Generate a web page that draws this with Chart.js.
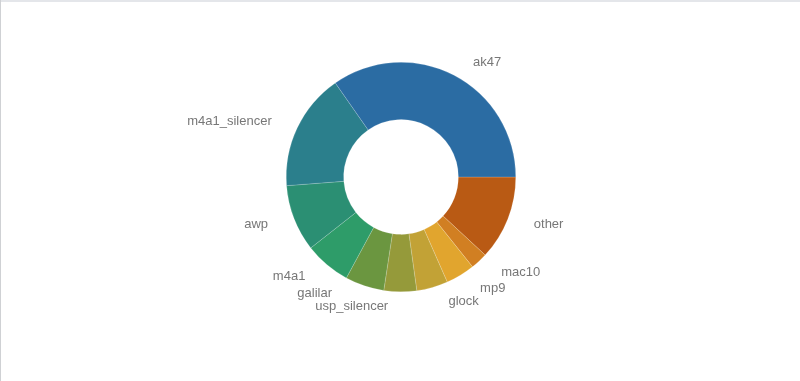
<!DOCTYPE html>
<html>
<head>
<meta charset="utf-8">
<script src="https://cdn.jsdelivr.net/npm/chart.js@4"></script>
<style>
  html, body { margin: 0; padding: 0; background: #fff; }
  #wrap { position: relative; width: 800px; height: 381px; overflow: hidden; }
  #wrap canvas { position: absolute; left: 0; top: 0; }
  .edge-top { position: absolute; left: 0; top: 0; width: 800px; height: 2px; background: #e4e6ea; }
  .edge-left { position: absolute; left: 0; top: 0; width: 1px; height: 381px; background: #cfd1d4; }
</style>
</head>
<body>
<div id="wrap">
  <canvas id="chart" width="800" height="381"></canvas>
  <div class="edge-top"></div>
  <div class="edge-left"></div>
</div>
<script>
// slices in drawing order, clockwise from 3 o'clock (share of kills, %)
const weapons = ['other', 'mac10', 'mp9', 'glock', 'usp_silencer', 'galilar', 'm4a1', 'awp', 'm4a1_silencer', 'ak47']
const shares = [11.9, 2.4, 4.1, 4.4, 4.6, 5.5, 6.5, 9.4, 16.5, 34.7]
const colors = ['#b95a14', '#d17f22', '#e1a52e', '#c2a236', '#959a3a', '#6b9640', '#2e9c69', '#2b8f73', '#2b7f8c', '#2b6ca3']

// draw category names outside each slice, nudging along the circle when two collide
const outsideLabels = {
  id: 'outsideLabels',
  afterDatasetsDraw(chart) {
    const ctx = chart.ctx
    const arcs = chart.getDatasetMeta(0).data
    const lineH = 13
    const placed = []
    ctx.save()
    ctx.font = '13px "Liberation Sans", Arial, sans-serif'
    ctx.fillStyle = '#777777'
    ctx.textBaseline = 'middle'

    const box = (arc, angle, w) => {
      const r = arc.outerRadius + 15
      const right = Math.cos(angle) >= 0
      const ax = arc.x + Math.cos(angle) * r + (right ? 12 : -12)
      const y = arc.y + Math.sin(angle) * r
      const x0 = right ? ax : ax - w
      return { ax, y, x0, x1: x0 + w, right }
    }
    const hits = (b) => placed.some((p) =>
      Math.abs(p.y - b.y) < lineH && b.x0 < p.x1 && b.x1 > p.x0)

    arcs.forEach((arc, i) => {
      const w = ctx.measureText(weapons[i]).width
      let angle = (arc.startAngle + arc.endAngle) / 2
      let b = box(arc, angle, w)
      let n = 0
      while (hits(b) && n < 60) {
        angle += Math.PI / 360
        b = box(arc, angle, w)
        n++
      }
      placed.push(b)
      ctx.textAlign = b.right ? 'left' : 'right'
      ctx.fillText(weapons[i], b.ax, b.y)
    })
    ctx.restore()
  }
}

new Chart(document.getElementById('chart').getContext('2d'), {
  type: 'doughnut',
  data: {
    labels: weapons,
    datasets: [
      {
        data: shares,
        backgroundColor: colors,
        borderColor: 'rgba(255,255,255,0.35)',
        borderWidth: 0.5
      }
    ]
  },
  options: {
    responsive: false,
    animation: false,
    rotation: 90,
    cutout: '50%',
    layout: {
      padding: { top: 62, bottom: 89, left: 286, right: 284 }
    },
    plugins: {
      legend: { display: false },
      tooltip: { enabled: false }
    }
  },
  plugins: [outsideLabels]
})
</script>
</body>
</html>
